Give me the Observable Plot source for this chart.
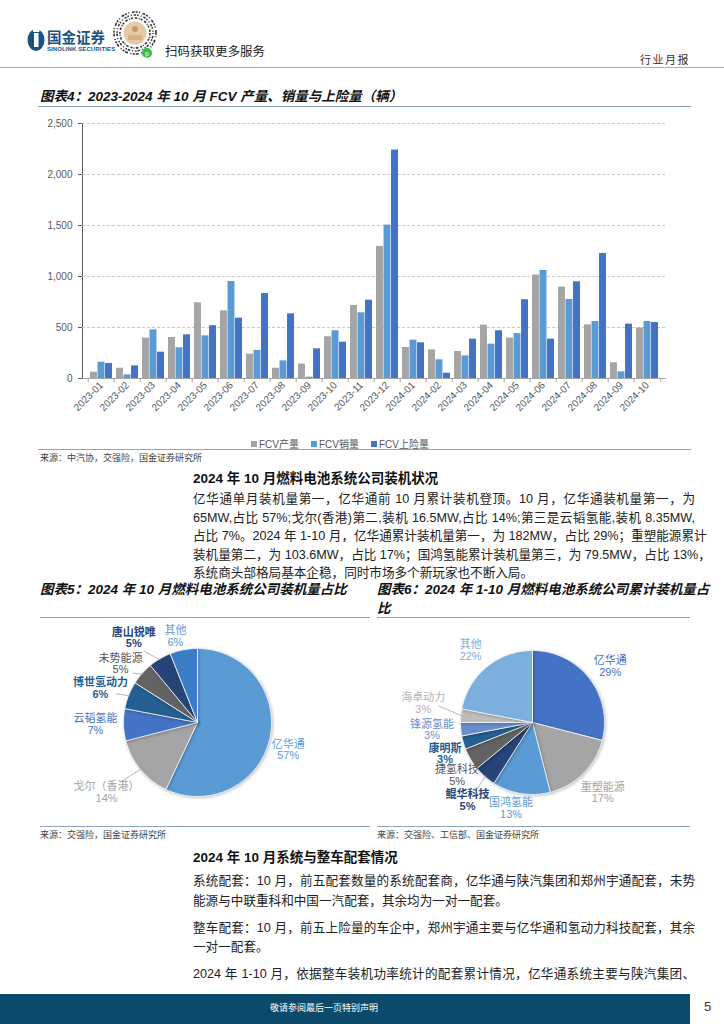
<!DOCTYPE html>
<html><head><meta charset="utf-8">
<script src="https://cdn.jsdelivr.net/npm/d3@7"></script>
<script src="https://cdn.jsdelivr.net/npm/@observablehq/plot@0.6"></script>
<style>
body{margin:0;width:724px;height:1024px;position:relative;background:#fff;overflow:hidden;font-family:"Liberation Sans","Noto Sans CJK SC",sans-serif;color:#222}
.abs{position:absolute;white-space:nowrap;line-height:1.3}
.hr{position:absolute;height:1px;background:#8EA6BC}
.ttl{font-weight:bold;font-style:italic;font-size:13.5px;color:#111}
.src{font-size:9px;color:#444}
.h2{font-weight:bold;font-size:13.5px;color:#111}
.para{font-size:12.6px;color:#222;width:502px;text-align:justify;text-align-last:justify}
.last{text-align-last:left}
.pie g[aria-label="line"]{filter:drop-shadow(1px 1.5px 1.5px rgba(0,0,0,0.25))}
</style></head><body>
<script>
// ---------- data ----------
const months = ["2023-01","2023-02","2023-03","2023-04","2023-05","2023-06","2023-07","2023-08","2023-09","2023-10","2023-11","2023-12","2024-01","2024-02","2024-03","2024-04","2024-05","2024-06","2024-07","2024-08","2024-09","2024-10"];
const production = [62,101,396,402,742,664,239,101,141,409,716,1295,304,281,265,523,396,1014,896,526,154,494];
const sales      = [160,36,477,301,418,951,275,173,13,468,644,1504,376,183,222,337,441,1059,775,559,65,559];
const insured    = [147,124,258,428,517,592,834,634,291,356,768,2240,350,52,386,468,772,386,948,1226,533,549];
const yTicks = [0,500,1000,1500,2000,2500];
const seriesNames = ["FCV产量","FCV销量","FCV上险量"];

const pie5Names  = ["亿华通","戈尔（香港）","云韬氢能","博世氢动力","未势能源","唐山锐唯","其他"];
const pie5Values = [57,14,7,6,5,5,6];
const pie6Names  = ["亿华通","重塑能源","国鸿氢能","鲲华科技","捷氢科技","康明斯","锋源氢能","海卓动力","其他"];
const pie6Values = [29,17,13,5,5,3,3,3,22];

// ---------- styles ----------
const seriesColors = ["#A5A5A5","#5B9BD5","#4472C4"];
const pie5Colors = ["#5B9BD5","#A5A5A5","#4472C4","#255E91","#636363","#264478","#3A7CC6"];
const pie5Label  = ["#5B9BD5","#A5A5A5","#4472C4","#255E91","#555555","#264478","#5B9BD5"];
const pie5Bold   = [false,false,false,true,false,true,false];
const pie5Leader = [false,true,false,true,true,true,false];
const pie5Adj    = [[4,1.28],[2,1.55],[0.7,1.38],[-2.3,1.39],[-4,1.31],[-6.4,1.43],[-3.6,1.2]];
const pie6Colors = ["#4472C4","#A5A5A5","#5B9BD5","#264478","#636363","#255E91","#698ED0","#BDBDBD","#7CAFDD"];
const pie6Label  = ["#4472C4","#A5A5A5","#5B9BD5","#264478","#555555","#255E91","#698ED0","#B5B5B5","#7CAFDD"];
const pie6Bold   = [false,false,false,true,false,true,false,false,false];
const pie6Leader = [false,false,false,true,false,false,false,true,false];
const pie6Adj    = [[2,1.33],[0,1.38],[5,1.23],[-1.6,1.41],[-4.5,1.28],[-3.5,1.29],[1,1.4],[4.5,1.54],[-1,1.32]];

function txt(s, x, y, cls, css){
  const d=document.createElement("div");
  d.className="abs "+(cls||"");
  d.textContent=s;
  d.style.left=x+"px"; d.style.top=y+"px";
  if(css) Object.assign(d.style, css);
  document.body.appendChild(d); return d;
}
function hr(x1,x2,y,color){
  const d=document.createElement("div"); d.className="hr";
  Object.assign(d.style,{left:x1+"px",width:(x2-x1)+"px",top:y+"px"});
  if(color) d.style.background=color;
  document.body.appendChild(d);
}
function place(node,x,y,cls){node.style.position="absolute";node.style.left=x+"px";node.style.top=y+"px";if(cls) node.classList.add(cls);document.body.appendChild(node);}

// ---------- header ----------
const hdr=document.createElement("div");
hdr.innerHTML=`<svg width="724" height="70" style="position:absolute;left:0;top:0">
 <ellipse cx="36" cy="40" rx="8.5" ry="11" fill="#1A5482"/>
 <rect x="34" y="33" width="4.5" height="14" fill="#fff"/>
 <rect x="33" y="28" width="6.5" height="4" fill="#fff"/>
 <g fill="none" stroke="#333" stroke-width="1.6">
  <circle cx="135" cy="33" r="21" stroke-dasharray="2 1.5 1 2.5 3 1"/>
  <circle cx="135" cy="33" r="18" stroke-dasharray="1 2 2.5 1 1.5 2"/>
  <circle cx="135" cy="33" r="15" stroke-dasharray="2.5 1.5 1 1 2 2"/>
 </g>
 <circle cx="135" cy="33" r="11.5" fill="#E6C9A6"/>
 <circle cx="135" cy="29" r="3" fill="#C59A66"/>
 <rect x="128" y="35" width="14" height="5" fill="#D8B187"/>
 <circle cx="147" cy="53" r="5" fill="#2DBE48"/>
 <text x="147" y="55.5" font-size="7" fill="#fff" text-anchor="middle" font-family="Liberation Sans">p</text>
</svg>`;
document.body.appendChild(hdr);
txt("国金证券",47,30,"",{fontSize:"14.5px",fontWeight:"bold",color:"#1A5482",fontFamily:"Noto Sans CJK SC",lineHeight:"1"});
txt("SINOLINK SECURITIES",47,46,"",{fontSize:"6px",fontWeight:"bold",color:"#1A5482",letterSpacing:"0.1px",lineHeight:"1"});
txt("扫码获取更多服务",165,45,"",{fontSize:"12.5px",color:"#222",fontFamily:"Noto Sans CJK SC",lineHeight:"1"});
txt("行业月报",640,54,"",{fontSize:"11px",color:"#333",letterSpacing:"1.5px",lineHeight:"1",fontFamily:"Noto Sans CJK SC"});
hr(0,724,67,"#9DB2C4");

// ---------- chart 4 ----------
txt("图表4：2023-2024 年 10 月 FCV 产量、销量与上险量（辆）",40,88,"ttl");
hr(38,691,106);

const W=724,H=322,ml=82,mr=58,mt=13,mb=54;
const pi=0.15, po=0.075;
const step=(W-ml-mr)/(months.length-pi+2*po), bw=step*(1-pi);
const rows=months.map((m,i)=>({month:m,production:production[i],sales:sales[i],insured:insured[i]}));
const bars=Plot.plot({
  width:W,height:H,marginLeft:ml,marginRight:mr,marginTop:mt,marginBottom:mb,
  style:{fontFamily:"Liberation Sans, Arial, sans-serif",fontSize:"10px",color:"#595959",background:"transparent",overflow:"visible"},
  x:{domain:months,paddingInner:pi,paddingOuter:po,tickRotate:-45,tickSize:0,tickPadding:5,label:null},
  y:{domain:[0,2500],ticks:yTicks,tickFormat:d3.format(","),tickSize:4,tickPadding:6,label:null,line:true},
  marks:[
    Plot.ruleY(yTicks.slice(1),{stroke:"#C8C8C8",strokeDasharray:"3,2"}),
    Plot.barY(rows,{x:"month",y:"production",fill:seriesColors[0],insetRight:2*bw/3}),
    Plot.barY(rows,{x:"month",y:"sales",fill:seriesColors[1],insetLeft:bw/3,insetRight:bw/3}),
    Plot.barY(rows,{x:"month",y:"insured",fill:seriesColors[2],insetLeft:2*bw/3}),
    Plot.ruleY([0],{stroke:"#A6A6A6",strokeWidth:1.2}),
    Plot.ruleX(months,{x:d=>d,dx:-step/2,y1:0,y2:-40,stroke:"#A6A6A6"}),
    Plot.ruleX(months.slice(-1),{x:d=>d,dx:step/2,y1:0,y2:-40,stroke:"#A6A6A6"})
  ]
});
place(bars,0,110);

// legend
const leg=document.createElement("div");
leg.style.cssText="position:absolute;left:0;width:680px;top:436px;display:flex;justify-content:center;gap:12px;font-size:10px;color:#595959;font-family:'Liberation Sans','Noto Sans CJK SC'";
seriesNames.forEach((n,i)=>{const s=document.createElement("span");s.style.cssText="display:flex;align-items:center;gap:2px";s.innerHTML=`<i style="display:inline-block;width:6px;height:6px;background:${seriesColors[i]}"></i>${n}`;leg.appendChild(s);});
document.body.appendChild(leg);

hr(38,691,449);
txt("来源：中汽协，交强险，国金证券研究所",40,453,"src");

// ---------- section text 1 ----------
txt("2024 年 10 月燃料电池系统公司装机状况",193,470,"h2");
const p1=["亿华通单月装机量第一，亿华通前 10 月累计装机登顶。10 月，亿华通装机量第一，为",
"65MW,占比 57%;戈尔(香港)第二,装机 16.5MW,占比 14%;第三是云韬氢能,装机 8.35MW,",
"占比 7%。2024 年 1-10 月，亿华通累计装机量第一，为 182MW，占比 29%；重塑能源累计",
"装机量第二，为 103.6MW，占比 17%；国鸿氢能累计装机量第三，为 79.5MW，占比 13%，",
"系统商头部格局基本企稳，同时市场多个新玩家也不断入局。"];
p1.forEach((s,i)=>txt(s,193,491+i*18.5,"para"+(i==p1.length-1?" last":"")));

// ---------- pies ----------
txt("图表5：2024 年 10 月燃料电池系统公司装机量占比",40,581,"ttl");
txt("图表6：2024 年 1-10 月燃料电池系统公司累计装机量占",377,581,"ttl");
txt("比",377,600,"ttl");
hr(40,370,617); hr(377,690,617);

function pie(names,values,colors,labelColors,bold,leader,adj,o){
  const arcs=d3.pie().sort(null).value(d=>d)(values);
  const pt=(a,rr)=>({x:rr*Math.sin(a),y:rr*Math.cos(a)});
  const deg=Math.PI/180;
  const marks=[];
  arcs.forEach((a,i)=>{
    const pts=[{x:0,y:0}];
    const n=Math.max(2,Math.ceil((a.endAngle-a.startAngle)/deg));
    for(let k=0;k<=n;k++) pts.push(pt(a.startAngle+(a.endAngle-a.startAngle)*k/n,o.r));
    pts.push({x:0,y:0});
    marks.push(Plot.line(pts,{x:"x",y:"y",fill:colors[i],stroke:"#fff",strokeWidth:0.8,curve:"linear"}));
  });
  const labels=arcs.map((a,i)=>{const m=(a.startAngle+a.endAngle)/2+adj[i][0]*deg;const p=pt(m,o.r*adj[i][1]);return {...p,text:names[i]+"\n"+values[i]+"%",color:labelColors[i],bold:bold[i]};});
  const leads=arcs.map((a,i)=>{const m=(a.startAngle+a.endAngle)/2;const p1=pt(m,o.r*0.98),p2=pt(m+adj[i][0]*deg,o.r*Math.max(1.1,adj[i][1]-0.22));return {x1:p1.x,y1:p1.y,x2:p2.x,y2:p2.y,on:leader[i]};}).filter(d=>d.on);
  marks.push(Plot.link(leads,{x1:"x1",y1:"y1",x2:"x2",y2:"y2",stroke:"#A6A6A6",strokeWidth:0.8}));
  marks.push(Plot.text(labels.filter(d=>!d.bold),{x:"x",y:"y",text:"text",fill:"color",fontSize:11,lineHeight:1.02}));
  marks.push(Plot.text(labels.filter(d=>d.bold),{x:"x",y:"y",text:"text",fill:"color",fontSize:11,fontWeight:"bold",lineHeight:1.02}));
  return Plot.plot({width:o.w,height:o.h,margin:0,
    style:{fontFamily:"Liberation Sans, Noto Sans CJK SC, sans-serif",background:"transparent",overflow:"visible"},
    x:{domain:[-o.cx,o.w-o.cx],axis:null},y:{domain:[-(o.h-o.cy),o.cy],axis:null},
    color:{type:"identity"},marks});
}
const pie5=pie(pie5Names,pie5Values,pie5Colors,pie5Label,pie5Bold,pie5Leader,pie5Adj,{w:330,h:205,cx:157,cy:102,r:74});
place(pie5,40,620,"pie");
const pie6=pie(pie6Names,pie6Values,pie6Colors,pie6Label,pie6Bold,pie6Leader,pie6Adj,{w:330,h:205,cx:162,cy:102,r:72});
place(pie6,370,620,"pie");

hr(40,370,826); hr(377,690,826);
txt("来源：交强险，国金证券研究所",40,830,"src");
txt("来源：交强险、工信部、国金证券研究所",377,830,"src");

// ---------- section text 2 ----------
txt("2024 年 10 月系统与整车配套情况",193,849,"h2");
const p2=[["系统配套：10 月，前五配套数量的系统配套商，亿华通与陕汽集团和郑州宇通配套，未势","能源与中联重科和中国一汽配套，其余均为一对一配套。"],
["整车配套：10 月，前五上险量的车企中，郑州宇通主要与亿华通和氢动力科技配套，其余","一对一配套。"],
["2024 年 1-10 月，依据整车装机功率统计的配套累计情况，亿华通系统主要与陕汽集团、"]];
let yy=873;
p2.forEach(par=>{par.forEach((s,i)=>{txt(s,193,yy,"para"+(i==par.length-1&&par.length>1?" last":""));yy+=19.5;});yy+=7.5;});

// ---------- footer ----------
const ft=document.createElement("div");
ft.style.cssText="position:absolute;left:0;top:994px;width:690px;height:30px;background:#0B4A6B";
document.body.appendChild(ft);
txt("敬请参阅最后一页特别声明",270,1002,"",{fontSize:"9px",color:"#fff",fontFamily:"Noto Sans CJK SC"});
txt("5",704,999,"",{fontSize:"13px",color:"#333"});
</script>
</body></html>
